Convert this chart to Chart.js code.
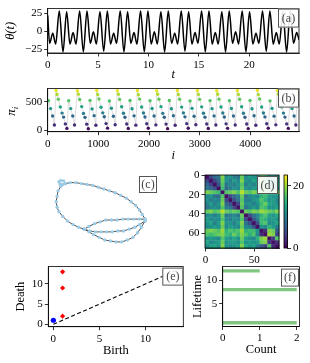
<!DOCTYPE html>
<html>
<head>
<meta charset="utf-8">
<script src="https://cdn.jsdelivr.net/npm/chart.js@4.4.1/dist/chart.umd.min.js"></script>
<style>
  html, body { margin: 0; padding: 0; background: #fff; }
  body { width: 310px; height: 363px; position: relative; overflow: hidden; }
  canvas { position: absolute; }
</style>
</head>
<body>
<canvas id="ca" width="310" height="82" style="left:0;top:0"></canvas>
<canvas id="cb" width="310" height="85" style="left:0;top:80px"></canvas>
<canvas id="cc" width="125" height="90" style="left:40px;top:165px"></canvas>
<canvas id="cd" width="103" height="100" style="left:180px;top:165px"></canvas>
<canvas id="cbar" width="30" height="100" style="left:280px;top:165px"></canvas>
<canvas id="ce" width="190" height="105" style="left:0;top:258px"></canvas>
<canvas id="cf" width="120" height="105" style="left:190px;top:258px"></canvas>
<script>
// (a) theta(t) - extrema
const thetaT = [0, 0.19, 0.50, 0.79, 1.15, 1.52, 1.88, 2.21, 2.52, 2.81, 3.17, 3.54, 3.90, 4.23, 4.54, 4.83,
  5.19, 5.56, 5.92, 6.24, 6.55, 6.84, 7.20, 7.57, 7.93, 8.26, 8.57, 8.86, 9.22, 9.59, 9.95, 10.28, 10.59,
  10.88, 11.24, 11.61, 11.97, 12.30, 12.61, 12.90, 13.26, 13.63, 13.99, 14.32, 14.63, 14.92, 15.28, 15.65,
  16.01, 16.33, 16.64, 16.93, 17.29, 17.66, 18.02, 18.35, 18.66, 18.95, 19.31, 19.68, 20.04, 20.37, 20.68,
  20.97, 21.33, 21.70, 22.06, 22.39, 22.70, 22.99, 23.35, 23.72, 24.08, 24.41, 24.72, 24.95];
const thetaV = [22, -17, -3, -18, 28, -29, 27, -18, -2, -18, 28, -29, 28, -17, -1, -18,
  27, -28, 28, -18, -3, -17, 28, -29, 27, -17, -2, -18, 28, -29, 28, -18, -1,
  -18, 27, -29, 28, -17, -3, -18, 28, -28, 27, -18, -2, -17, 28, -29,
  28, -18, -2, -18, 27, -29, 28, -17, -1, -18, 28, -29, 27, -18, -3,
  -17, 28, -28, 28, -18, -2, -18, 27, -29, 28, -17, -2, -12];

// (b) ordinal pattern index pi_i
const piI = [17, 57, 97, 132,
  164, 184, 209, 249, 284, 314, 349, 379, 414, 454, 494, 529,
  586, 606, 631, 671, 706, 736, 771, 801, 836, 876, 916, 951,
  967, 987, 1012, 1052, 1087, 1117, 1152, 1182, 1217, 1257, 1297, 1332,
  1375, 1395, 1420, 1460, 1495, 1525, 1560, 1590, 1625, 1665, 1705, 1740,
  1770, 1790, 1815, 1855, 1890, 1920, 1955, 1985, 2020, 2060, 2100, 2135,
  2151, 2171, 2196, 2236, 2271, 2301, 2336, 2366, 2401, 2441, 2481, 2516,
  2559, 2579, 2604, 2644, 2679, 2709, 2744, 2774, 2809, 2849, 2889, 2924,
  2954, 2974, 2999, 3039, 3074, 3104, 3139, 3169, 3204, 3244, 3284, 3319,
  3336, 3356, 3381, 3421, 3456, 3486, 3521, 3551, 3586, 3626, 3666, 3701,
  3743, 3763, 3788, 3828, 3863, 3893, 3928, 3958, 3993, 4033, 4073, 4108,
  4138, 4158, 4183, 4223, 4258, 4288, 4323, 4353, 4388, 4428, 4468, 4503,
  4533, 4553, 4578, 4618, 4653, 4683, 4718, 4748, 4783, 4823, 4863, 4898,
  4928, 4948];
const piV = [520, 380, 250, 90,
  700, 630, 545, 410, 300, 230, 110, 30, 520, 380, 250, 90,
  695, 635, 540, 415, 295, 225, 105, 25, 525, 375, 255, 85,
  702, 628, 550, 405, 305, 235, 115, 35, 515, 385, 245, 95,
  698, 632, 542, 412, 298, 228, 108, 28, 522, 378, 252, 88,
  700, 625, 548, 408, 302, 232, 112, 32, 518, 382, 248, 92,
  696, 634, 544, 414, 296, 226, 106, 26, 524, 376, 254, 86,
  701, 629, 546, 406, 304, 234, 114, 34, 516, 384, 246, 94,
  699, 631, 543, 411, 299, 229, 109, 29, 521, 379, 251, 89,
  697, 633, 547, 409, 301, 231, 111, 31, 519, 381, 249, 91,
  700, 630, 545, 413, 297, 227, 107, 27, 523, 377, 253, 87,
  703, 627, 549, 407, 303, 233, 113, 33, 517, 383, 247, 93,
  698, 632, 541, 410, 300, 230, 110, 30, 520, 380, 250, 90,
  700, 630];

// (c) network layout, one list per path of nodes
const netPaths = [
  { x: [-0.74, -0.64, -0.52, -0.40, -0.28, -0.16, -0.04, 0.08, 0.20, 0.32, 0.44, 0.56, 0.66, 0.76, 0.84, 0.90, 0.96],
    y: [0.58, 0.60, 0.60, 0.58, 0.56, 0.54, 0.50, 0.46, 0.42, 0.38, 0.32, 0.26, 0.18, 0.10, 0.00, -0.10, -0.20] },
  { x: [-0.74, -0.78, -0.84, -0.88, -0.86, -0.80, -0.74],
    y: [0.58, 0.64, 0.65, 0.62, 0.57, 0.56, 0.58] },
  { x: [-0.74, -0.84, -0.90, -0.92, -0.94, -0.92, -0.88, -0.80, -0.70, -0.58, -0.46, -0.34],
    y: [0.58, 0.52, 0.42, 0.30, 0.18, 0.06, -0.04, -0.14, -0.24, -0.32, -0.38, -0.42] },
  { x: [-0.34, -0.24, -0.14, -0.02, 0.10, 0.22, 0.34, 0.46, 0.58, 0.70, 0.80, 0.88, 0.96],
    y: [-0.42, -0.48, -0.54, -0.60, -0.66, -0.68, -0.70, -0.70, -0.66, -0.60, -0.50, -0.38, -0.24] },
  { x: [-0.34, -0.24, -0.12, 0.00, 0.12, 0.24, 0.36, 0.48, 0.60, 0.72, 0.84, 0.96],
    y: [-0.42, -0.36, -0.30, -0.26, -0.22, -0.22, -0.22, -0.20, -0.20, -0.20, -0.20, -0.20] },
  { x: [-0.34, -0.22, -0.10, 0.02, 0.14, 0.26, 0.38, 0.50, 0.62, 0.74, 0.84, 0.96],
    y: [-0.42, -0.46, -0.48, -0.48, -0.48, -0.48, -0.46, -0.46, -0.42, -0.38, -0.32, -0.24] }
];

// (d) distance matrix, 4x4 blocks of nodes, upper triangle per row
const blockSize = 4;
const distUpper = [
  [1, 5, 8, 9, 19, 11, 12, 10, 9, 18, 11, 13, 12, 11, 18, 17, 12, 14, 11],
  [1, 5, 8, 18, 12, 10, 13, 11, 19, 12, 11, 14, 12, 19, 16, 13, 11, 13],
  [1, 6, 17, 9, 11, 10, 12, 17, 10, 12, 10, 13, 18, 17, 12, 12, 14],
  [1, 16, 8, 10, 12, 11, 18, 12, 11, 13, 12, 17, 18, 11, 13, 12],
  [1, 17, 18, 19, 17, 21, 18, 17, 19, 18, 20, 19, 17, 18, 19],
  [1, 5, 8, 10, 18, 9, 11, 12, 11, 15, 16, 13, 12, 12],
  [1, 6, 9, 17, 10, 10, 12, 13, 17, 15, 12, 13, 11],
  [1, 5, 18, 11, 12, 10, 12, 16, 18, 14, 13, 12],
  [1, 17, 9, 11, 13, 11, 17, 16, 12, 12, 13],
  [1, 18, 17, 19, 18, 20, 19, 18, 17, 19],
  [1, 5, 9, 11, 15, 17, 13, 12, 14],
  [1, 6, 10, 16, 15, 12, 13, 12],
  [1, 6, 16, 17, 11, 12, 14],
  [1, 12, 11, 15, 13, 10],
  [1, 3, 19, 18, 7],
  [1, 20, 19, 5],
  [1, 4, 17],
  [1, 3],
  [1]
];
const distMax = 23.5;

// (e) persistence diagram
const h0Birth = [0], h0Death = [1];
const h1Birth = [1, 1, 1], h1Death = [2, 9, 13];

// (f) lifetime histogram
const lifetimes = [12, 8, 1];
const lifeCounts = [1, 2, 2];

const SERIF = "'Liberation Serif','DejaVu Serif',serif";
Chart.defaults.font.family = SERIF;
Chart.defaults.font.size = 11;
Chart.defaults.color = '#000';
Chart.defaults.animation = false;
Chart.defaults.plugins.legend.display = false;
Chart.defaults.plugins.tooltip.enabled = false;

const viridisStops = ['#440154', '#482475', '#414487', '#355f8d', '#2a788e', '#21918c',
  '#22a884', '#44bf70', '#7ad151', '#bddf26', '#fde725'];
function hex(c) { return [1, 3, 5].map(k => parseInt(c.substr(k, 2), 16)); }
function viridis(f) {
  f = Math.max(0, Math.min(1, f)) * 10;
  const k = Math.min(9, Math.floor(f)), r = f - k;
  const a = hex(viridisStops[k]), b = hex(viridisStops[k + 1]);
  return 'rgb(' + a.map((v, i) => Math.round(v + (b[i] - v) * r)).join(',') + ')';
}

function fmt(v) { return v < 0 ? '\u2212' + (-v) : String(v); }

function axis(min, max, ticks, fit, title, titlePad, extra) {
  const a = {
    type: 'linear', min: min, max: max, offset: false,
    grid: { drawOnChartArea: false, drawTicks: true, tickLength: 3.5, color: '#000', lineWidth: 0.8, offset: false },
    border: { display: true, color: '#000', width: 0.8 },
    ticks: { padding: 2, color: '#000', autoSkip: false, maxRotation: 0, callback: fmt },
    afterBuildTicks: s => { s.ticks = ticks.map(v => ({ value: v })); },
    afterFit: s => { if (s.isHorizontal()) s.height = fit; else s.width = fit; }
  };
  if (title) {
    a.title = { display: true, text: title.text, color: '#000',
      font: { size: title.size || 12.5, style: title.italic ? 'italic' : 'normal' },
      padding: { top: titlePad, bottom: titlePad } };
  }
  return Object.assign(a, extra || {});
}

const frame = {
  id: 'frame',
  afterDatasetsDraw(chart) {
    const { ctx, chartArea: a } = chart;
    ctx.save();
    ctx.strokeStyle = '#000';
    ctx.lineWidth = 0.8;
    ctx.strokeRect(a.left, a.top, a.right - a.left, a.bottom - a.top);
    ctx.restore();
  }
};

function tag(text, dx, dy, w, h, abs) {
  return {
    id: 'tag',
    afterDraw(chart) {
      const { ctx, chartArea: a } = chart;
      const x = abs ? dx : a.right - dx - w, y = abs ? dy : a.top + dy;
      ctx.save();
      ctx.fillStyle = 'rgba(255,255,255,0.9)';
      ctx.fillRect(x, y, w, h);
      ctx.strokeStyle = '#555';
      ctx.lineWidth = 1;
      ctx.strokeRect(x + 0.5, y + 0.5, w - 1, h - 1);
      ctx.fillStyle = '#444';
      ctx.font = '12px ' + SERIF;
      ctx.textAlign = 'center';
      ctx.textBaseline = 'middle';
      ctx.fillText(text, x + w / 2, y + h / 2 + 0.5);
      ctx.restore();
    }
  };
}

// (a)
new Chart(document.getElementById('ca'), {
  type: 'line',
  data: { datasets: [{
    data: thetaT.map((t, k) => ({ x: t, y: thetaV[k] })),
    borderColor: '#000', borderWidth: 1.5, pointRadius: 0, cubicInterpolationMode: 'monotone'
  }] },
  options: {
    responsive: false,
    layout: { padding: { top: 5, right: 11, left: 0, bottom: 0 } },
    scales: {
      x: axis(0, 24.95, [0, 5, 10, 15, 20], 29, { text: 't', italic: true }, 0),
      y: axis(-30.5, 31.5, [-25, 0, 25], 47.7, { text: '\u03b8(t)', italic: true }, 3)
    }
  },
  plugins: [frame, tag('(a)', 0, 0, 21, 19)]
});

// (b)
const piLabel = {
  id: 'piLabel',
  afterDraw(chart) {
    const { ctx, chartArea: a } = chart;
    ctx.save();
    ctx.translate(15, (a.top + a.bottom) / 2);
    ctx.rotate(-Math.PI / 2);
    ctx.fillStyle = '#000';
    ctx.textBaseline = 'alphabetic';
    ctx.font = 'italic 13px ' + SERIF;
    ctx.textAlign = 'right';
    ctx.fillText('\u03c0', 1, 0);
    ctx.font = 'italic 9px ' + SERIF;
    ctx.textAlign = 'left';
    ctx.fillText('i', 1, 3);
    ctx.restore();
  }
};
new Chart(document.getElementById('cb'), {
  type: 'line',
  data: { datasets: [{
    data: piI.map((v, k) => ({ x: v, y: piV[k] })),
    borderColor: 'rgba(120,120,120,0.45)', borderWidth: 0.6,
    pointRadius: 1.7, pointBorderWidth: 0,
    pointBackgroundColor: piV.map(v => viridis(v / 719))
  }] },
  options: {
    responsive: false,
    layout: { padding: { top: 5, right: 11, left: 0, bottom: 0 } },
    scales: {
      x: axis(0, 4960, [0, 1000, 2000, 3000, 4000], 33.3, { text: 'i', italic: true }, 1.5),
      y: axis(-28, 733, [0, 500], 47.7, null, 0)
    }
  },
  plugins: [frame, tag('(b)', 0, 0, 21, 19), piLabel]
});

// (c)
new Chart(document.getElementById('cc'), {
  type: 'scatter',
  data: { datasets: netPaths.map(p => ({
    data: p.x.map((v, k) => ({ x: v, y: p.y[k] })),
    showLine: true, borderColor: '#222', borderWidth: 0.8,
    pointRadius: 1.7, pointBorderWidth: 0, pointBackgroundColor: '#9ccbe6'
  })) },
  options: {
    responsive: false,
    layout: { padding: 0 },
    scales: {
      x: { type: 'linear', min: -1.2, max: 1.3, display: false },
      y: { type: 'linear', min: -0.9, max: 0.9, display: false }
    }
  },
  plugins: [tag('(c)', 99, 11, 18, 17, true)]
});

// (d)
const distMatrix = distUpper.map((row, i) => distUpper.map((r2, j) => j >= i ? row[j - i] : distUpper[j][i - j]));
const heat = {
  id: 'heat',
  beforeDatasetsDraw(chart) {
    const { ctx, scales: { x, y } } = chart;
    const n = distMatrix.length;
    for (let i = 0; i < n; i++) {
      for (let j = 0; j < n; j++) {
        const x0 = x.getPixelForValue(j * blockSize - 0.5), x1 = x.getPixelForValue((j + 1) * blockSize - 0.5);
        const y0 = y.getPixelForValue(i * blockSize - 0.5), y1 = y.getPixelForValue((i + 1) * blockSize - 0.5);
        ctx.fillStyle = viridis(distMatrix[i][j] / distMax);
        ctx.fillRect(Math.min(x0, x1), Math.min(y0, y1), Math.abs(x1 - x0) + 0.4, Math.abs(y1 - y0) + 0.4);
      }
    }
  }
};
const N = distUpper.length * blockSize;
new Chart(document.getElementById('cd'), {
  type: 'scatter',
  data: { datasets: [{ data: [] }] },
  options: {
    responsive: false,
    layout: { padding: { top: 10, right: 4, left: 0, bottom: 0 } },
    scales: {
      x: axis(-0.5, N - 0.5, [0, 50], 17, null, 0),
      y: axis(-0.5, N - 0.5, [0, 20, 40, 60], 25, null, 0, { reverse: true })
    }
  },
  plugins: [heat, frame, tag('(d)', 1, 1, 21, 18)]
});

// colourbar
const cbarFill = {
  id: 'cbarFill',
  beforeDatasetsDraw(chart) {
    const { ctx, chartArea: a, scales: { y } } = chart;
    const g = ctx.createLinearGradient(0, y.getPixelForValue(0), 0, y.getPixelForValue(distMax));
    viridisStops.forEach((c, k) => g.addColorStop(k / 10, c));
    ctx.fillStyle = g;
    ctx.fillRect(a.left, a.top, a.right - a.left, a.bottom - a.top);
  }
};
new Chart(document.getElementById('cbar'), {
  type: 'scatter',
  data: { datasets: [{ data: [] }] },
  options: {
    responsive: false,
    layout: { padding: { top: 10, right: 0, left: 4, bottom: 17 } },
    scales: {
      x: { type: 'linear', display: false },
      y: axis(0, distMax, [0, 20], 22.5, null, 0, { position: 'right' })
    }
  },
  plugins: [cbarFill, frame]
});

// (e)
new Chart(document.getElementById('ce'), {
  type: 'scatter',
  data: { datasets: [
    { data: [{ x: 0, y: 0 }, { x: 14.5, y: 14.5 }], showLine: true, borderColor: '#000',
      borderWidth: 1.1, borderDash: [4, 2.5], pointRadius: 0 },
    { data: h0Birth.map((b, k) => ({ x: b, y: h0Death[k] })), pointRadius: 2.6,
      pointBackgroundColor: '#0000ff', pointBorderWidth: 0 },
    { data: h1Birth.map((b, k) => ({ x: b, y: h1Death[k] })), pointStyle: 'rectRot', pointRadius: 2.6,
      pointBackgroundColor: '#ff0000', pointBorderWidth: 0 }
  ] },
  options: {
    responsive: false,
    layout: { padding: { top: 8, right: 6.7, left: 0, bottom: 0 } },
    scales: {
      x: axis(-0.55, 14.1, [0, 5, 10], 36.3, { text: 'Birth' }, 4.5),
      y: axis(-0.6, 14.3, [0, 5, 10], 48.3, { text: 'Death' }, 13.5)
    }
  },
  plugins: [frame, tag('(e)', 0, 1, 21, 18)]
});

// (f) horizontal bars drawn as thick segments from zero
new Chart(document.getElementById('cf'), {
  type: 'scatter',
  data: { datasets: lifetimes.map((l, k) => ({
    data: [{ x: 0, y: l }, { x: lifeCounts[k], y: l }],
    showLine: true, borderColor: 'rgba(44,160,44,0.6)', borderWidth: 3.3,
    borderCapStyle: 'butt', pointRadius: 0
  })) },
  options: {
    responsive: false,
    layout: { padding: { top: 8, right: 10.5, left: 0, bottom: 0 } },
    scales: {
      x: axis(0, 2.075, [0, 1, 2], 36.5, { text: 'Count' }, 5.5),
      y: axis(0.2, 12.9, [5, 10], 32.7, { text: 'Lifetime' }, 0)
    }
  },
  plugins: [frame, tag('(f)', 0.5, 2, 18, 18)]
});
</script>
</body>
</html>
